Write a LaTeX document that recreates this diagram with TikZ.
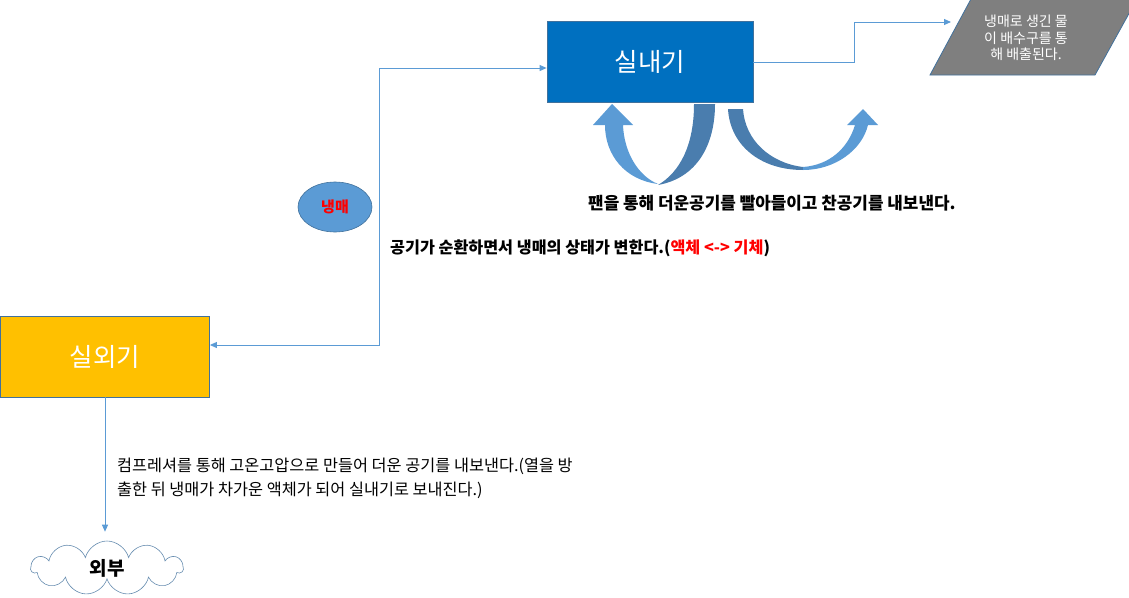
\documentclass[tikz,border=0pt]{standalone}
\usepackage{fontspec}
\setmainfont{Noto Sans CJK KR}
\usetikzlibrary{shapes.geometric,shapes.symbols,arrows.meta}
\definecolor{inblue}{HTML}{0070C0}
\definecolor{outorange}{HTML}{FFC000}
\definecolor{lnblue}{HTML}{5B9BD5}
\definecolor{bdblue}{HTML}{41719C}
\definecolor{darkarr}{HTML}{4A7DAE}
\definecolor{paragray}{HTML}{7F7F7F}
\begin{document}
\begin{tikzpicture}[x=1pt,y=-1pt,
  unitbox/.style={draw=bdblue, line width=0.8pt, inner sep=0pt, text=white, font=\fontsize{25.5}{30}\selectfont},
  conn/.style={lnblue, line width=0.9pt, -{Triangle[length=7pt,width=6pt]}},
  bodytext/.style={font=\bfseries\fontsize{16.2}{20}\selectfont, anchor=west, inner sep=0pt},
  plaintext/.style={font=\fontsize{16.3}{24}\selectfont, anchor=north west, inner sep=0pt, align=left},
]
\useasboundingbox (0,0) rectangle (1129,597);
% units
\node[unitbox, fill=inblue, minimum width=206pt, minimum height=81pt] (in) at (650,62) {실내기};
\node[unitbox, fill=outorange, minimum width=209pt, minimum height=81pt] (out) at (105,356.5) {실외기};
% drain parallelogram
\draw[fill=paragray, draw=bdblue, line width=0.8pt] (930,75) -- (971,-1) -- (1137,-1) -- (1095,75) -- cycle;
\node[text=white, font=\fontsize{14}{16.5}\selectfont, align=center, inner sep=0pt] (drain) at (1026,38) {냉매로 생긴 물\\이 배수구를 통\\해 배출된다.};
\coordinate (drainin) at (951,22);
\draw[conn] (in.east) -- ++(101,0) |- (drainin);
% refrigerant loop
\coordinate (k1) at (379,345);
\coordinate (k2) at (379,68);
\draw[conn, {Triangle[length=7pt,width=6pt]}-{Triangle[length=7pt,width=6pt]}] (out.east |- k1) -- (k1) -- (k2) -- (in.west |- k2);
\node[ellipse, fill=lnblue, draw=bdblue, line width=0.6pt, minimum width=74pt, minimum height=50pt, inner sep=0pt, text=red, font=\bfseries\fontsize{15}{18}\selectfont] (ref) at (335,207) {냉매};
% outside
\node[cloud, cloud puffs=11, aspect=2.7, draw=bdblue!80, line width=0.6pt, fill=white, minimum width=152pt, minimum height=54pt, inner sep=0pt, font=\bfseries\fontsize{19}{22}\selectfont] (ext) at (107,568) {외부};
\draw[conn, shorten >=9pt] (out.south) -- (out.south |- ext.north);
% texts
\node[bodytext, font=\bfseries\fontsize{16.9}{20}\selectfont] (fan) at (588,203) {팬을 통해 더운공기를 빨아들이고 찬공기를 내보낸다.};
\node[bodytext] (cyc) at (390,248) {공기가 순환하면서 냉매의 상태가 변한다.(\textcolor{red}{액체 <-> 기체})};
\node[plaintext] (comp) at (117,458) {컴프레셔를 통해 고온고압으로 만들어 더운 공기를 내보낸다.(열을 방\\출한 뒤 냉매가 차가운 액체가 되어 실내기로 보내진다.)};
% curved fan arrows
\fill[lnblue] (658,184) .. controls (625,180) and (605,155) .. (605,125) -- (593,125) -- (612,104) -- (633,125) -- (623,125) .. controls (624,152) and (638,176) .. (658,184) -- cycle;
\fill[darkarr] (694,104) -- (715,104) .. controls (715,145) and (697,178) .. (658,185) .. controls (680,172) and (694,145) .. (694,104) -- cycle;
\fill[darkarr] (728,109) -- (743,109) .. controls (745,140) and (770,163) .. (803,167) -- (803,170) .. controls (760,170) and (730,145) .. (728,109) -- cycle;
\fill[lnblue] (803,170) .. controls (835,170) and (862,150) .. (868,125) -- (878,125) -- (863,109) -- (847,125) -- (855,125) .. controls (848,148) and (830,165) .. (803,167) -- cycle;
\end{tikzpicture}
\end{document}
